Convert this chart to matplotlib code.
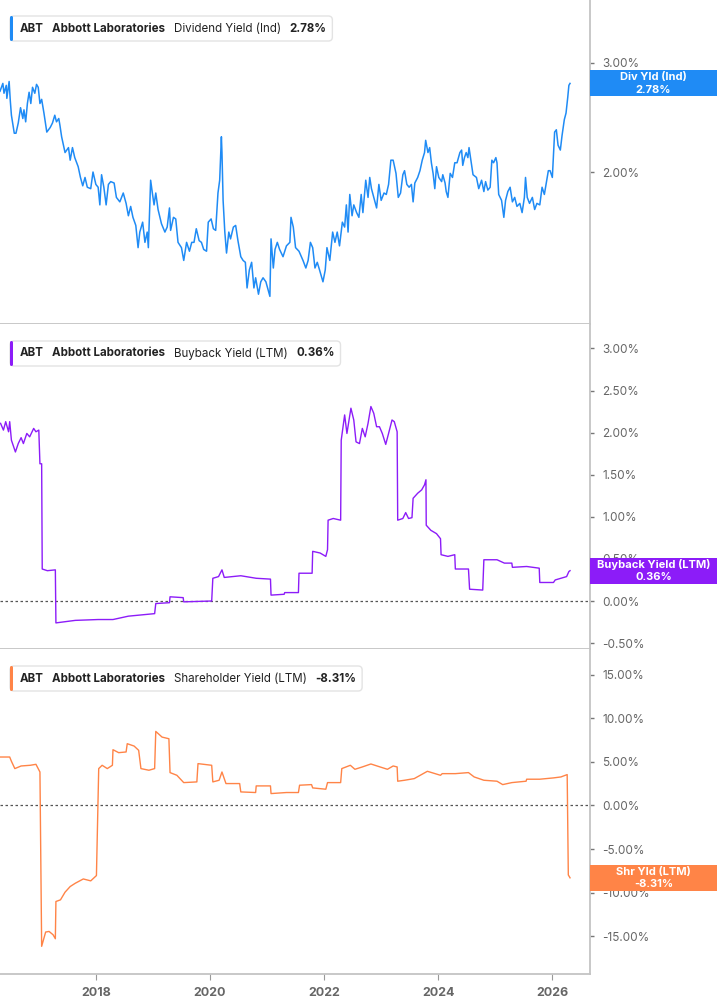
import matplotlib
matplotlib.use("Agg")
import matplotlib.pyplot as plt
import matplotlib.ticker as mticker
from matplotlib.patches import FancyBboxPatch, Rectangle
from matplotlib.transforms import IdentityTransform

plt.rcParams['font.family'] = ['Inter', 'DejaVu Sans']

# ---- data (decimal year, percent) ----
div_years = [
    2016.32, 2016.37, 2016.39, 2016.43, 2016.44, 2016.48, 2016.50, 2016.52, 2016.57, 2016.60,
    2016.64, 2016.68, 2016.72, 2016.74, 2016.77, 2016.80, 2016.83, 2016.86, 2016.89, 2016.93,
    2016.96, 2016.99, 2017.02, 2017.05, 2017.09, 2017.14, 2017.20, 2017.24, 2017.28, 2017.31,
    2017.35, 2017.37, 2017.40, 2017.46, 2017.52, 2017.55, 2017.59, 2017.63, 2017.69, 2017.73,
    2017.77, 2017.81, 2017.85, 2017.91, 2017.95, 2018.00, 2018.04, 2018.07, 2018.10, 2018.14,
    2018.18, 2018.22, 2018.26, 2018.32, 2018.36, 2018.42, 2018.48, 2018.53, 2018.57, 2018.61,
    2018.65, 2018.70, 2018.74, 2018.77, 2018.82, 2018.86, 2018.90, 2018.92, 2018.96, 2018.99,
    2019.02, 2019.05, 2019.09, 2019.15, 2019.21, 2019.25, 2019.29, 2019.31, 2019.36, 2019.40,
    2019.44, 2019.50, 2019.54, 2019.59, 2019.64, 2019.68, 2019.72, 2019.76, 2019.81, 2019.85,
    2019.89, 2019.94, 2019.97, 2020.02, 2020.06, 2020.10, 2020.14, 2020.17, 2020.20, 2020.21,
    2020.23, 2020.26, 2020.29, 2020.33, 2020.36, 2020.41, 2020.45, 2020.49, 2020.54, 2020.58,
    2020.62, 2020.65, 2020.69, 2020.73, 2020.77, 2020.80, 2020.85, 2020.89, 2020.93, 2020.98,
    2021.02, 2021.05, 2021.07, 2021.11, 2021.14, 2021.18, 2021.22, 2021.28, 2021.34, 2021.40,
    2021.42, 2021.46, 2021.50, 2021.56, 2021.63, 2021.68, 2021.72, 2021.76, 2021.80, 2021.84,
    2021.88, 2021.92, 2021.98, 2022.02, 2022.05, 2022.10, 2022.15, 2022.19, 2022.23, 2022.27,
    2022.32, 2022.36, 2022.39, 2022.42, 2022.45, 2022.49, 2022.52, 2022.57, 2022.61, 2022.65,
    2022.68, 2022.73, 2022.77, 2022.80, 2022.83, 2022.87, 2022.92, 2022.96, 2023.00, 2023.05,
    2023.09, 2023.13, 2023.17, 2023.21, 2023.26, 2023.30, 2023.34, 2023.38, 2023.41, 2023.45,
    2023.49, 2023.53, 2023.56, 2023.59, 2023.64, 2023.68, 2023.72, 2023.76, 2023.78, 2023.82,
    2023.85, 2023.88, 2023.91, 2023.94, 2023.97, 2024.01, 2024.06, 2024.08, 2024.12, 2024.14,
    2024.17, 2024.21, 2024.25, 2024.29, 2024.33, 2024.38, 2024.41, 2024.43, 2024.46, 2024.49,
    2024.52, 2024.54, 2024.58, 2024.61, 2024.67, 2024.71, 2024.76, 2024.80, 2024.83, 2024.87,
    2024.91, 2024.94, 2024.97, 2025.01, 2025.03, 2025.06, 2025.11, 2025.15, 2025.18, 2025.22,
    2025.26, 2025.30, 2025.34, 2025.38, 2025.43, 2025.47, 2025.51, 2025.53, 2025.56, 2025.60,
    2025.65, 2025.69, 2025.73, 2025.78, 2025.82, 2025.86, 2025.89, 2025.93, 2025.96, 2026.00,
    2026.04, 2026.07, 2026.10, 2026.14, 2026.17, 2026.21, 2026.24, 2026.27, 2026.29, 2026.31,
]
div_yield = [
    2.70, 2.78, 2.68, 2.76, 2.63, 2.80, 2.61, 2.47, 2.31, 2.31,
    2.40, 2.54, 2.44, 2.52, 2.41, 2.58, 2.69, 2.58, 2.74, 2.68,
    2.77, 2.74, 2.58, 2.62, 2.49, 2.32, 2.36, 2.40, 2.47, 2.41,
    2.44, 2.38, 2.28, 2.15, 2.19, 2.09, 2.19, 2.11, 2.04, 1.96,
    1.90, 1.96, 1.89, 1.88, 2.00, 1.91, 1.89, 1.77, 1.98, 1.89,
    1.77, 1.91, 1.93, 1.92, 1.82, 1.79, 1.85, 1.78, 1.70, 1.76,
    1.69, 1.64, 1.51, 1.60, 1.66, 1.54, 1.60, 1.51, 1.94, 1.85,
    1.77, 1.85, 1.74, 1.65, 1.60, 1.63, 1.75, 1.61, 1.69, 1.68,
    1.54, 1.51, 1.44, 1.54, 1.49, 1.54, 1.54, 1.62, 1.55, 1.54,
    1.50, 1.49, 1.66, 1.68, 1.62, 1.61, 1.85, 1.94, 2.28, 2.15,
    1.80, 1.60, 1.48, 1.60, 1.56, 1.63, 1.64, 1.55, 1.46, 1.44,
    1.43, 1.30, 1.39, 1.43, 1.30, 1.35, 1.27, 1.33, 1.35, 1.33,
    1.29, 1.26, 1.56, 1.40, 1.50, 1.54, 1.50, 1.46, 1.52, 1.54,
    1.69, 1.63, 1.51, 1.49, 1.44, 1.40, 1.44, 1.54, 1.51, 1.40,
    1.43, 1.39, 1.33, 1.39, 1.51, 1.44, 1.60, 1.54, 1.60, 1.52,
    1.66, 1.63, 1.77, 1.60, 1.84, 1.70, 1.77, 1.72, 1.69, 1.84,
    1.72, 1.94, 1.82, 1.96, 1.88, 1.82, 1.75, 1.91, 1.80, 1.85,
    1.84, 1.91, 2.09, 2.09, 1.99, 1.82, 1.85, 1.98, 2.01, 1.91,
    1.89, 1.91, 1.79, 1.92, 1.96, 2.01, 2.09, 2.15, 2.25, 2.15,
    2.19, 2.07, 1.99, 1.88, 2.04, 1.96, 1.93, 1.98, 1.92, 1.86,
    1.82, 1.99, 1.96, 2.07, 2.07, 2.15, 2.17, 2.05, 2.11, 2.15,
    2.11, 2.19, 2.07, 1.98, 1.96, 1.88, 1.94, 1.86, 1.93, 1.87,
    1.89, 2.09, 2.07, 2.11, 2.07, 1.84, 1.80, 1.69, 1.80, 1.86,
    1.89, 1.79, 1.82, 1.76, 1.78, 1.72, 1.82, 1.96, 1.82, 1.78,
    1.82, 1.74, 1.78, 1.77, 1.89, 1.84, 1.91, 2.01, 2.01, 1.96,
    2.32, 2.34, 2.21, 2.17, 2.29, 2.43, 2.49, 2.64, 2.76, 2.78,
]

bb_years = [
    2016.33, 2016.38, 2016.42, 2016.47, 2016.49, 2016.52, 2016.59, 2016.64, 2016.69, 2016.73,
    2016.79, 2016.84, 2016.91, 2016.95, 2017.00, 2017.02, 2017.05, 2017.06, 2017.15, 2017.29,
    2017.30, 2017.64, 2018.04, 2018.30, 2018.57, 2019.03, 2019.05, 2019.29, 2019.30, 2019.53,
    2019.54, 2020.03, 2020.05, 2020.15, 2020.21, 2020.25, 2020.54, 2020.81, 2021.06, 2021.07,
    2021.30, 2021.31, 2021.55, 2021.56, 2021.79, 2021.80, 2021.93, 2022.03, 2022.06, 2022.07,
    2022.16, 2022.29, 2022.30, 2022.36, 2022.40, 2022.47, 2022.52, 2022.56, 2022.62, 2022.67,
    2022.72, 2022.77, 2022.82, 2022.87, 2022.92, 2022.97, 2023.02, 2023.08, 2023.13, 2023.19,
    2023.23, 2023.28, 2023.29, 2023.38, 2023.43, 2023.48, 2023.54, 2023.56, 2023.64, 2023.71,
    2023.76, 2023.785, 2023.79, 2023.87, 2023.97, 2024.04, 2024.05, 2024.17, 2024.29, 2024.30,
    2024.53, 2024.55, 2024.78, 2024.80, 2025.03, 2025.16, 2025.29, 2025.30, 2025.55, 2025.77,
    2025.78, 2026.02, 2026.05, 2026.25, 2026.29, 2026.31,
]
bb_yield = [
    2.11, 2.03, 2.13, 2.01, 2.13, 1.91, 1.77, 1.87, 1.94, 1.87,
    1.99, 1.95, 2.05, 2.01, 2.03, 1.63, 1.63, 0.38, 0.36, 0.37,
    -0.26, -0.23, -0.22, -0.22, -0.18, -0.15, -0.03, -0.02, 0.05, 0.04,
    -0.01, 0.00, 0.27, 0.29, 0.37, 0.28, 0.30, 0.27, 0.26, 0.07,
    0.08, 0.10, 0.10, 0.33, 0.33, 0.59, 0.57, 0.53, 0.61, 0.96,
    0.98, 0.96, 1.91, 2.21, 1.99, 2.29, 2.15, 1.89, 1.87, 2.05,
    1.95, 2.11, 2.31, 2.23, 2.07, 2.07, 1.99, 1.86, 1.99, 2.15,
    2.13, 2.01, 0.96, 0.98, 1.05, 0.98, 0.99, 1.22, 1.28, 1.32,
    1.38, 1.44, 0.90, 0.84, 0.80, 0.74, 0.55, 0.53, 0.55, 0.38,
    0.38, 0.14, 0.13, 0.49, 0.49, 0.45, 0.45, 0.40, 0.41, 0.39,
    0.22, 0.22, 0.25, 0.29, 0.35, 0.36,
]

shy_years = [
    2016.33, 2016.49, 2016.52, 2016.58, 2016.69, 2016.85, 2016.95, 2017.02, 2017.05, 2017.12,
    2017.18, 2017.25, 2017.29, 2017.30, 2017.38, 2017.46, 2017.55, 2017.64, 2017.78, 2017.91,
    2018.01, 2018.05, 2018.11, 2018.20, 2018.29, 2018.30, 2018.40, 2018.53, 2018.55, 2018.67,
    2018.75, 2018.79, 2018.93, 2019.03, 2019.05, 2019.16, 2019.28, 2019.30, 2019.42, 2019.54,
    2019.77, 2019.79, 2020.03, 2020.05, 2020.16, 2020.21, 2020.28, 2020.52, 2020.54, 2020.80,
    2020.81, 2021.06, 2021.07, 2021.34, 2021.55, 2021.57, 2021.78, 2021.80, 2022.03, 2022.06,
    2022.29, 2022.31, 2022.46, 2022.54, 2022.67, 2022.82, 2022.98, 2023.11, 2023.21, 2023.28,
    2023.29, 2023.41, 2023.58, 2023.81, 2024.04, 2024.07, 2024.30, 2024.53, 2024.63, 2024.80,
    2025.03, 2025.13, 2025.29, 2025.54, 2025.55, 2025.78, 2026.02, 2026.15, 2026.26, 2026.28,
    2026.31,
]
shy_yield = [
    5.57, 5.57, 5.08, 4.24, 4.54, 4.62, 4.73, 3.85, -16.18, -14.54,
    -14.47, -14.85, -15.31, -11.03, -10.84, -9.96, -9.31, -8.93, -8.44, -8.66,
    -8.05, 4.24, 4.62, 4.24, 4.62, 6.41, 6.07, 6.15, 7.10, 6.83,
    6.34, 4.24, 4.05, 4.24, 8.51, 7.86, 7.67, 3.78, 3.47, 2.63,
    2.71, 4.81, 4.62, 2.71, 2.90, 3.85, 2.52, 2.52, 1.56, 1.49,
    2.25, 2.25, 1.37, 1.49, 1.49, 2.33, 2.40, 2.02, 1.87, 2.63,
    2.63, 4.24, 4.62, 4.16, 4.43, 4.77, 4.43, 4.16, 4.54, 4.43,
    2.79, 2.90, 3.09, 3.93, 3.47, 3.66, 3.66, 3.78, 3.28, 2.90,
    2.79, 2.40, 2.63, 2.79, 3.02, 3.02, 3.17, 3.28, 3.55, -7.98,
    -8.31,
]

x_ticks = [2018, 2020, 2022, 2024, 2026]
div_ticks = [2.0, 3.0]
bb_ticks = [-0.5, 0.0, 0.5, 1.0, 1.5, 2.0, 2.5, 3.0]
shy_ticks = [-15, -10, -5, 0, 5, 10, 15]

BLUE = '#1f8bf5'
PURPLE = '#8c1cf8'
ORANGE = '#ff8447'

W, H = 717, 1005
fig = plt.figure(figsize=(W / 100, H / 100), dpi=100)
fig.patch.set_facecolor('white')


def make_ax(top, bottom):
    ax = fig.add_axes([0, 1 - bottom / H, 590 / W, (bottom - top) / H])
    for s in ['top', 'left']:
        ax.spines[s].set_visible(False)
    for s in ['right', 'bottom']:
        ax.spines[s].set_color('#c4c4c4')
        ax.spines[s].set_linewidth(1.3)
    ax.yaxis.tick_right()
    ax.tick_params(axis='y', colors='#777777', labelcolor='#666666', length=3,
                   width=1, labelsize=8.5, pad=6)
    ax.tick_params(axis='x', length=0, labelbottom=False)
    ax.set_xlim(2016.32, 2026.66)
    ax.set_xticks(x_ticks)
    ax.yaxis.set_major_formatter(mticker.FuncFormatter(lambda v, p: f'{v:.2f}%'))
    return ax


ax1 = make_ax(0, 324)
ax2 = make_ax(324, 649)
ax3 = make_ax(649, 974)

ax1.plot(div_years, div_yield, color=BLUE, lw=1.1)
ax1.set_yscale('log')
ax1.set_ylim(1.137, 3.79)
ax1.yaxis.set_major_locator(mticker.FixedLocator(div_ticks))
ax1.yaxis.set_minor_locator(mticker.NullLocator())
ax1.yaxis.set_major_formatter(mticker.FuncFormatter(lambda v, p: f'{v:.2f}%'))

ax2.plot(bb_years, bb_yield, color=PURPLE, lw=1.0)
ax2.set_ylim(-0.57, 3.29)
ax2.set_yticks(bb_ticks)
ax2.axhline(0, color='#555555', lw=0.9, ls=(0, (2, 2)), zorder=0)

ax3.plot(shy_years, shy_yield, color=ORANGE, lw=1.0)
ax3.set_ylim(-19.36, 17.98)
ax3.set_yticks(shy_ticks)
ax3.axhline(0, color='#555555', lw=0.9, ls=(0, (2, 2)), zorder=0)
ax3.tick_params(axis='x', length=4, color='#999999', labelbottom=True,
                labelsize=9, labelcolor='#666666', pad=5)
for lab in ax3.get_xticklabels():
    lab.set_fontweight('bold')

renderer = fig.canvas.get_renderer()
ident = IdentityTransform()


def header(top_px, pieces, color):
    yc = 1 - (top_px + 20.5) / H
    x = 20
    texts = []
    for s, w in pieces:
        t = fig.text(x / W, yc, s, fontsize=8.3, fontweight=w, color='#222222',
                     va='center', ha='left', zorder=6)
        x = t.get_window_extent(renderer).x1 + 8.5
        texts.append(t)
    right = x - 8.5 + 6
    box = FancyBboxPatch((10, H - (top_px + 33)), right - 10, 25,
                         boxstyle='round,pad=0,rounding_size=4', transform=ident,
                         facecolor='white', edgecolor='#e3e3e3', lw=1, zorder=5)
    fig.add_artist(box)
    bar = FancyBboxPatch((10, H - (top_px + 33)), 3, 25,
                         boxstyle='round,pad=0,rounding_size=1.5', transform=ident,
                         facecolor=color, edgecolor='none', zorder=5.5)
    fig.add_artist(bar)


header(8, [('ABT', 'bold'), ('Abbott Laboratories', 'bold'),
           ('Dividend Yield (Ind)', 'normal'), ('2.78%', 'bold')], BLUE)
header(333, [('ABT', 'bold'), ('Abbott Laboratories', 'bold'),
             ('Buyback Yield (LTM)', 'normal'), ('0.36%', 'bold')], PURPLE)
header(658, [('ABT', 'bold'), ('Abbott Laboratories', 'bold'),
             ('Shareholder Yield (LTM)', 'normal'), ('-8.31%', 'bold')], ORANGE)


def value_tag(ax, value, line1, line2, color):
    yd = ax.transData.transform((2020, value))[1]
    rect = Rectangle((590, yd - 13), 127, 26, transform=ident,
                     facecolor=color, edgecolor='none', zorder=10)
    fig.add_artist(rect)
    fig.text(653.5 / W, (yd + 6) / H, line1, fontsize=8, fontweight='bold',
             color='white', ha='center', va='center', zorder=11)
    fig.text(653.5 / W, (yd - 6.5) / H, line2, fontsize=8, fontweight='bold',
             color='white', ha='center', va='center', zorder=11)


value_tag(ax1, 2.78, 'Div Yld (Ind)', '2.78%', BLUE)
value_tag(ax2, 0.36, 'Buyback Yield (LTM)', '0.36%', PURPLE)
value_tag(ax3, -8.31, 'Shr Yld (LTM)', '-8.31%', ORANGE)

fig.savefig('out.png', dpi=100)
